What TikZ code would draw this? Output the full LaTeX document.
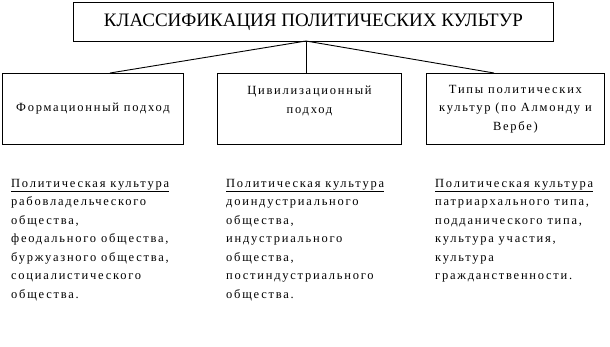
\documentclass[tikz,border=0pt]{standalone}
\usepackage{fontspec}
\setmainfont{Liberation Serif}
\newfontfamily\widefont[LetterSpace=14]{Liberation Serif}
\usetikzlibrary{positioning}

\begin{document}
\begin{tikzpicture}[
    x=1pt, y=-1pt,
    box/.style={draw,line width=0.9pt,inner sep=0pt,anchor=north west,align=center,
      font=\widefont\fontsize{12.5}{18.5}\selectfont},
    coltext/.style={inner sep=0pt,anchor=north west,align=left,
      font=\widefont\fontsize{12.5}{18.5}\selectfont},
    link/.style={line width=0.9pt}
  ]
  %% Frame
  \useasboundingbox (0,0) rectangle (610,346);

  %% Title
  \node[box,minimum width=480pt,minimum height=39pt,font=\fontsize{19}{22}\selectfont]
    (title) at (73,2) {КЛАССИФИКАЦИЯ ПОЛИТИЧЕСКИХ КУЛЬТУР};

  %% Approaches
  \node[box,minimum width=181pt,minimum height=71pt] (form) at (2,73)
    {Формационный подход};
  \node[box,minimum width=184pt,minimum height=71pt] (civ) at (217,73)
    {Цивилизационный\\подход\\~};
  \node[box,minimum width=178pt,minimum height=71pt] (types) at (426,73)
    {Типы политических\\культур (по Алмонду и\\Вербе)};

  %% Connectors
  \coordinate (hub) at (306,41);
  \coordinate (j1) at (110,73);
  \coordinate (j2) at (306,73);
  \coordinate (j3) at (494,73);
  \foreach \dst in {j1,j2,j3}{
    \draw[link] (hub) -- (\dst);
  }

  %% Political cultures
  \node[coltext] (cform) at (11,179)
    {\underline{Политическая культура}\\рабовладельческого\\общества,\\
     феодального общества,\\буржуазного общества,\\социалистического\\общества.};
  \node[coltext] (cciv) at (226,179)
    {\underline{Политическая культура}\\доиндустриального\\общества,\\
     индустриального\\общества,\\постиндустриального\\общества.};
  \node[coltext] (ctypes) at (435,179)
    {\underline{Политическая культура}\\патриархального типа,\\подданического типа,\\
     культура участия,\\культура\\гражданственности.};
\end{tikzpicture}
\end{document}
